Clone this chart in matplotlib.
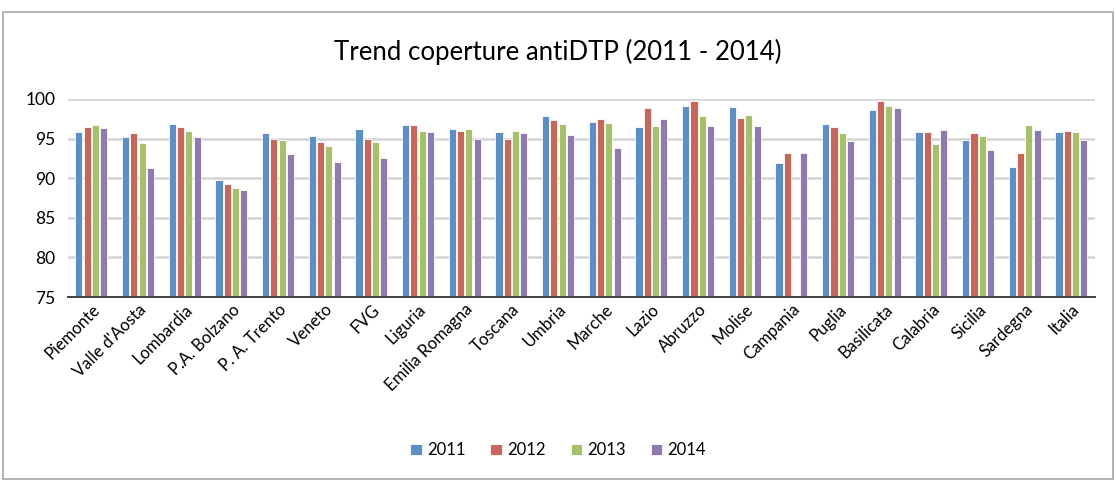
import matplotlib
matplotlib.use("Agg")
import matplotlib.pyplot as plt
import numpy as np
from matplotlib.patches import Rectangle

regions = ["Piemonte", "Valle d'Aosta", "Lombardia", "P.A. Bolzano", "P. A. Trento",
           "Veneto", "FVG", "Liguria", "Emilia Romagna", "Toscana", "Umbria", "Marche",
           "Lazio", "Abruzzo", "Molise", "Campania", "Puglia", "Basilicata", "Calabria",
           "Sicilia", "Sardegna", "Italia"]
years = ["2011", "2012", "2013", "2014"]
v2011 = [95.8, 95.2, 96.8, 89.8, 95.7, 95.3, 96.2, 96.7, 96.2, 95.8, 97.8, 97.1,
         96.5, 99.1, 99.0, 91.9, 96.8, 98.6, 95.8, 94.8, 91.4, 95.8]
v2012 = [96.5, 95.7, 96.5, 89.3, 95.0, 94.5, 95.0, 96.7, 96.0, 95.0, 97.3, 97.5,
         98.8, 99.7, 97.6, 93.2, 96.5, 99.7, 95.8, 95.7, 93.2, 96.0]
v2013 = [96.7, 94.4, 96.0, 88.8, 94.8, 94.0, 94.5, 96.0, 96.2, 96.0, 96.8, 97.0,
         96.6, 97.8, 98.0, np.nan, 95.7, 99.1, 94.3, 95.3, 96.7, 95.8]
v2014 = [96.3, 91.3, 95.2, 88.5, 93.0, 92.0, 92.5, 95.8, 95.0, 95.7, 95.5, 93.8,
         97.5, 96.6, 96.6, 93.2, 94.7, 98.8, 96.1, 93.5, 96.1, 94.8]
series = [v2011, v2012, v2013, v2014]
colors = ["#5A8FC8", "#CB6459", "#A6C268", "#8E79B2"]

plt.rcParams['font.family'] = ['Lato', 'DejaVu Sans']

fig = plt.figure(figsize=(11.16, 4.8), dpi=100)
ax = fig.add_axes([0.061, 0.381, 0.920, 0.413])

x = np.arange(len(regions))
step = 0.178
width = 0.152
for i, (vals, c, y) in enumerate(zip(series, colors, years)):
    offs = (i - 1.5) * step
    ax.bar(x + offs, np.array(vals) - 75, bottom=75, width=width, color=c,
           edgecolor="white", linewidth=0.6, label=y, zorder=3)

ax.set_xlim(-0.5, len(regions) - 0.5)
ax.set_ylim(75, 100)
ax.set_yticks([75, 80, 85, 90, 95, 100])
ax.yaxis.grid(True, color="#D4D4D4", linewidth=1.8, zorder=0)
ax.set_axisbelow(True)
for s in ["top", "right", "left"]:
    ax.spines[s].set_visible(False)
ax.spines["bottom"].set_color("#404040")
ax.spines["bottom"].set_linewidth(1.4)
ax.spines["bottom"].set_zorder(4)
ax.tick_params(axis="y", length=0, labelsize=12.5, pad=9)
ax.tick_params(axis="x", length=0, labelsize=12, pad=3)
ax.set_xticks(x)
ax.set_xticklabels(regions, rotation=45, ha="right", rotation_mode="anchor")

fig.text(0.5, 0.892, "Trend coperture antiDTP (2011 - 2014)", ha="center", va="center",
         fontsize=18.5)

handles, labels = ax.get_legend_handles_labels()
fig.legend(handles, labels, loc="center", bbox_to_anchor=(0.5, 0.062), ncol=4,
           frameon=False, fontsize=12, handlelength=0.7, handleheight=0.7,
           handletextpad=0.3, columnspacing=1.5)

fig.patches.append(Rectangle((3 / 1116, 0.002), 1 - 6 / 1116, 1 - 12 / 480 - 0.002,
                             transform=fig.transFigure, fill=False,
                             edgecolor="#A6A6A6", linewidth=1.2))

fig.savefig("out.png", dpi=100, facecolor="white")
